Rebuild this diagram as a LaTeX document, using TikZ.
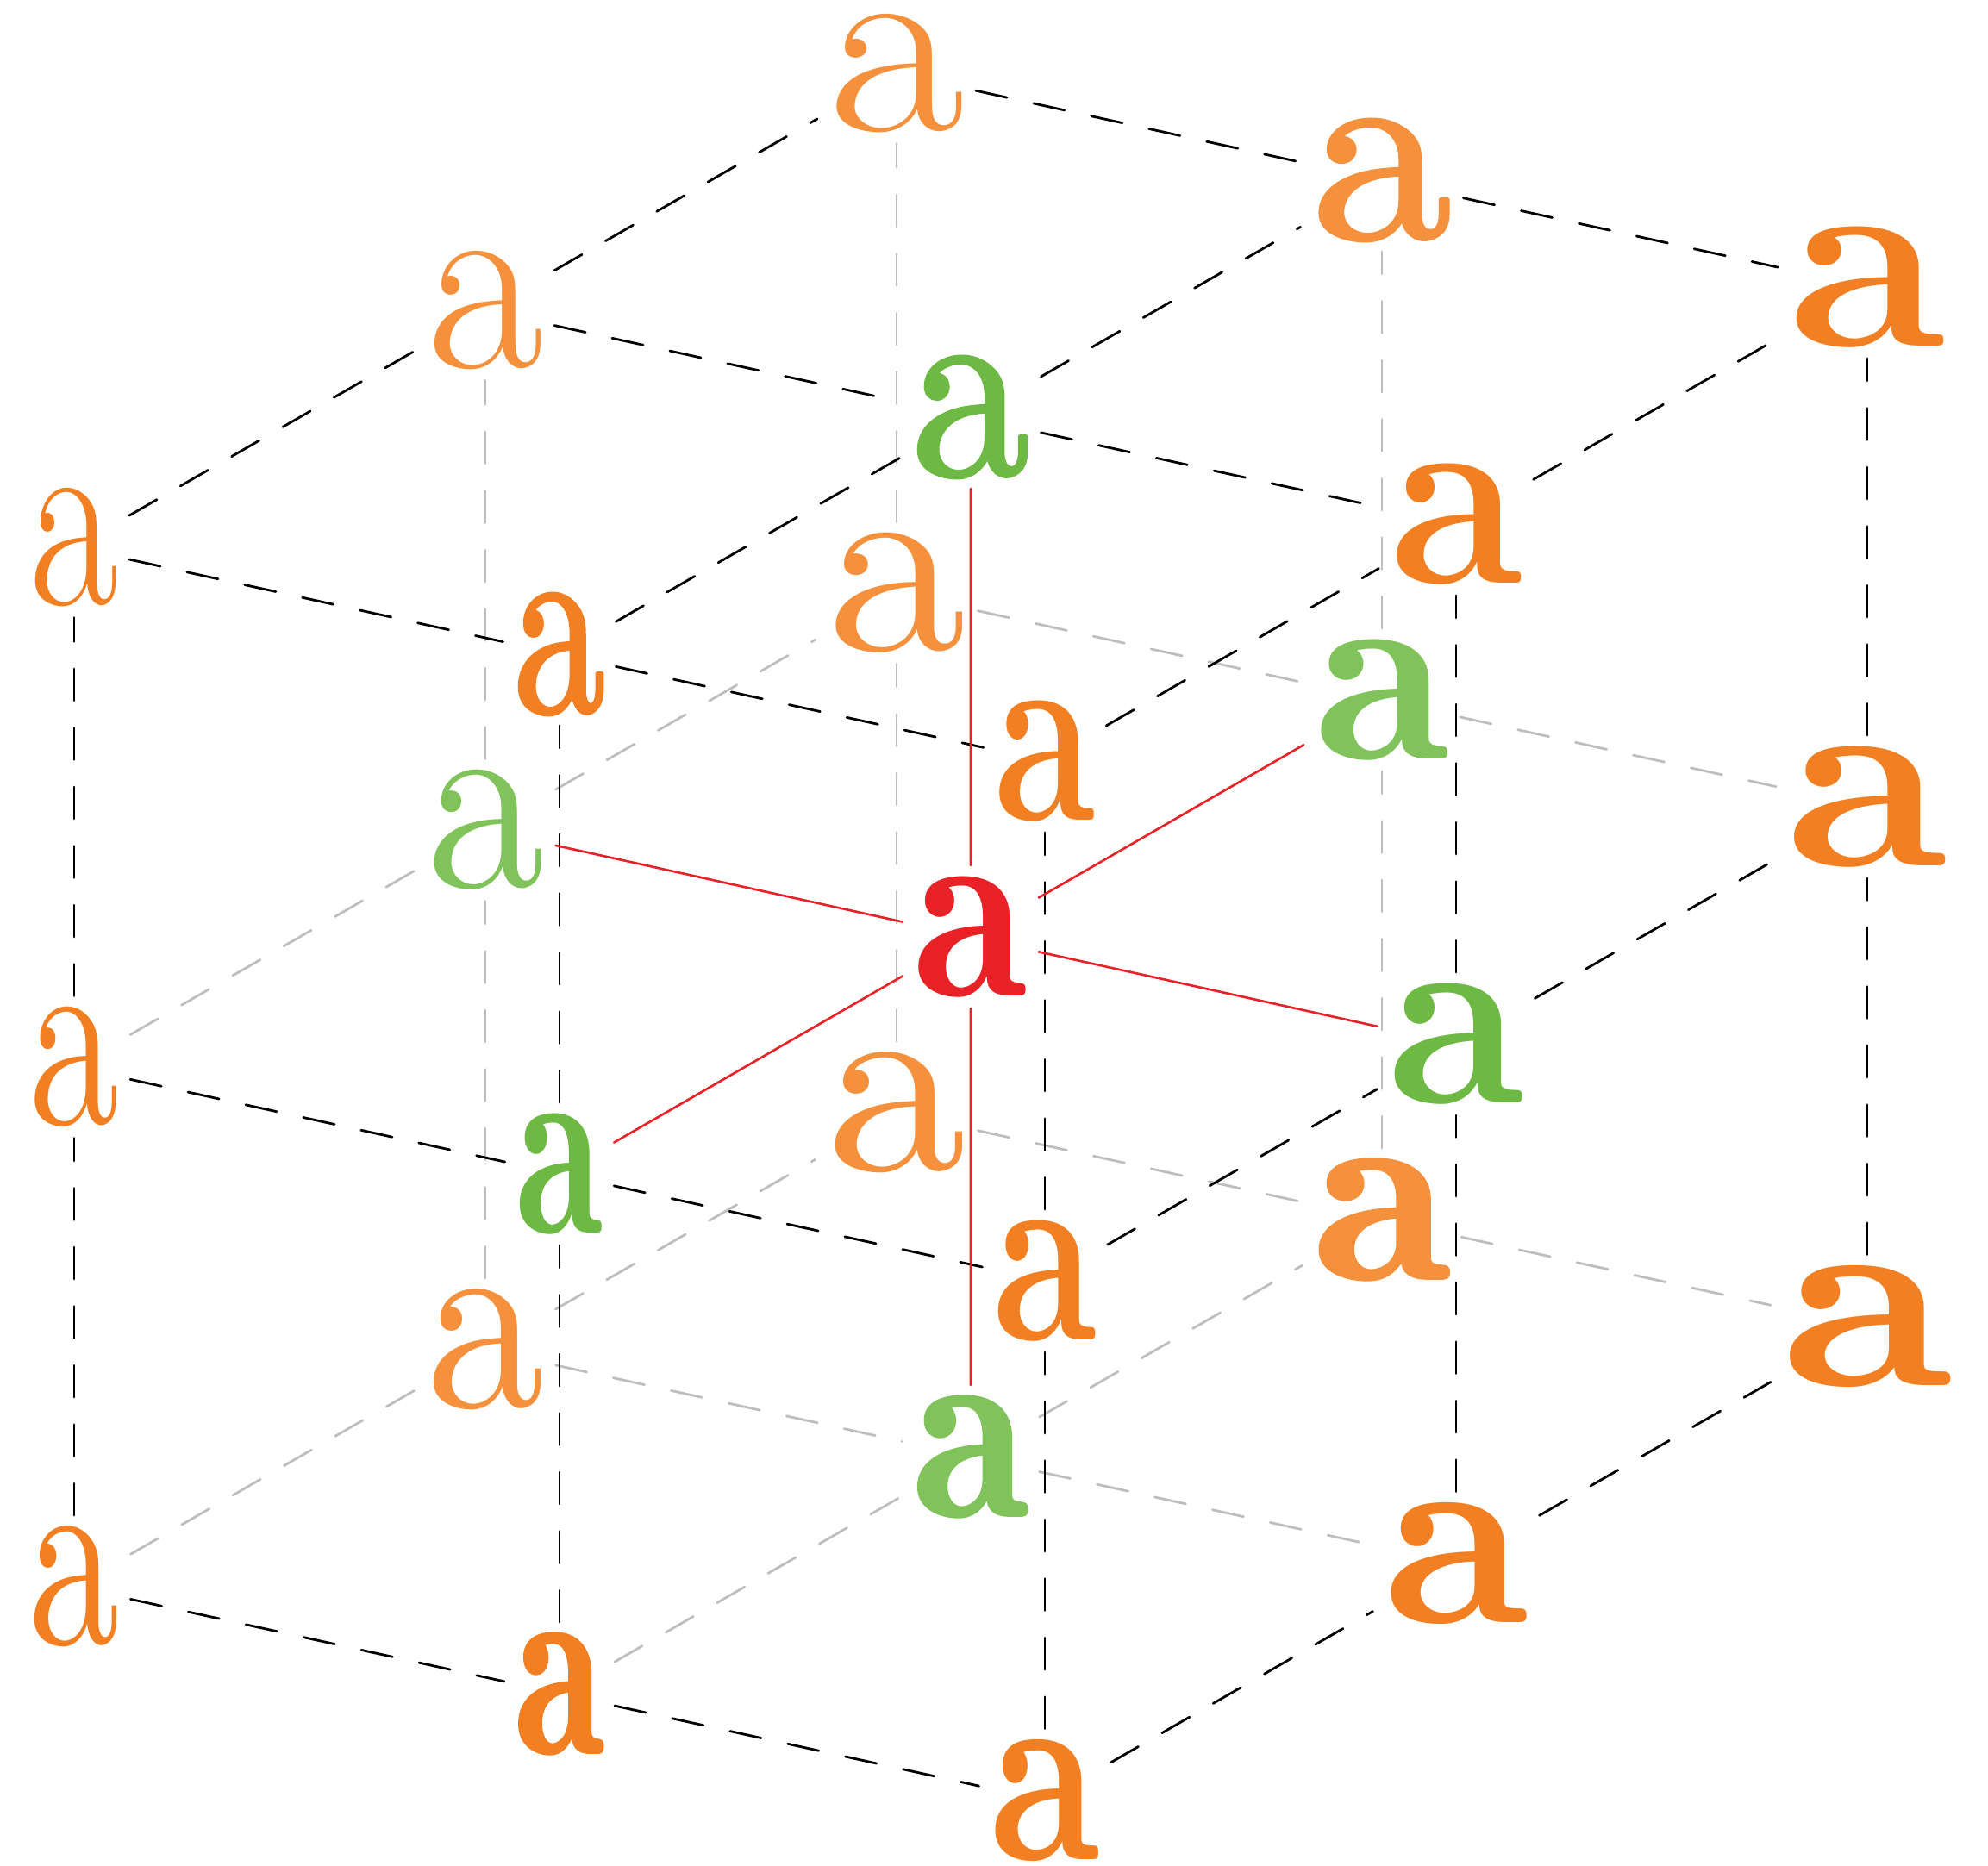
\documentclass[tikz,border=0pt]{standalone}
\usepackage{fontspec}
\definecolor{fontorange}{RGB}{242,128,34}
\definecolor{paleorange}{RGB}{245,145,60}
\definecolor{fontgreen}{RGB}{109,185,68}
\definecolor{palegreen}{RGB}{128,195,90}
\definecolor{fontred}{RGB}{233,34,40}
\definecolor{hiddengray}{RGB}{190,190,190}
\newcommand{\glypha}[2]{\fontsize{87pt}{87pt}\fontspec{#1}[Extension=.otf,FakeStretch=#2]a}
\newcommand{\heavya}[3]{\fontsize{87pt}{87pt}\fontspec{#1}[Extension=.otf,FakeStretch=#2,FakeBold=#3]a}
\tikzset{
  letter/.style={inner sep=0.12cm},
  edge/.style={line width=0.8pt, dash pattern=on 10.5pt off 9pt},
  seenedge/.style={edge, black},
  hiddenedge/.style={edge, hiddengray},
  axisedge/.style={line width=0.75pt, fontred}
}
\begin{document}
\begin{tikzpicture}[x={(5.63cm,-1.24cm)},y={(4.77cm,2.75cm)},z={(0cm,6.03cm)},line join = round, line cap = round]
			\useasboundingbox (-0.86cm,-3.24cm) rectangle (22.20cm,18.41cm);
			% bottom layer
			\node[letter,text=fontorange] (a000) at (0,0,0) {\glypha{lmroman10-regular}{0.69}};
			\node[letter,text=paleorange] (a010) at (0,1,0) {\glypha{lmroman10-regular}{0.90}};
			\node[letter,text=paleorange] (a020) at (0,2,0) {\glypha{lmroman10-regular}{1.07}};
			\node[letter,text=fontorange] (a100) at (1,0,0) {\heavya{lmromandemi10-regular}{0.69}{1}};
			\node[letter,text=palegreen] (a110) at (1,1,0) {\heavya{lmromandemi10-regular}{0.90}{1}};
			\node[letter,text=paleorange] (a120) at (1,2,0) {\heavya{lmromandemi10-regular}{1.07}{1}};
			\node[letter,text=fontorange] (a200) at (2,0,0) {\glypha{lmroman8-bold}{0.70}};
			\node[letter,text=fontorange] (a210) at (2,1,0) {\glypha{lmroman8-bold}{0.92}};
			\node[letter,text=fontorange] (a220) at (2,2,0) {\glypha{lmroman8-bold}{1.09}};
			% middle layer
			\node[letter,text=fontorange] (a001) at (0,0,1) {\glypha{lmroman12-regular}{0.70}};
			\node[letter,text=palegreen] (a011) at (0,1,1) {\glypha{lmroman12-regular}{0.92}};
			\node[letter,text=paleorange] (a021) at (0,2,1) {\glypha{lmroman12-regular}{1.09}};
			\node[letter,text=fontgreen] (a101) at (1,0,1) {\glypha{lmromandemi10-regular}{0.68}};
			\node[letter,text=fontred] (a111) at (1,1,1) {\glypha{lmromandemi10-regular}{0.89}};
			\node[letter,text=palegreen] (a121) at (1,2,1) {\glypha{lmromandemi10-regular}{1.05}};
			\node[letter,text=fontorange] (a201) at (2,0,1) {\glypha{lmroman10-bold}{0.70}};
			\node[letter,text=fontgreen] (a211) at (2,1,1) {\glypha{lmroman10-bold}{0.92}};
			\node[letter,text=fontorange] (a221) at (2,2,1) {\glypha{lmroman10-bold}{1.09}};
			% top layer
			\node[letter,text=fontorange] (a002) at (0,0,2) {\glypha{lmroman17-regular}{0.73}};
			\node[letter,text=paleorange] (a012) at (0,1,2) {\glypha{lmroman17-regular}{0.96}};
			\node[letter,text=paleorange] (a022) at (0,2,2) {\glypha{lmroman17-regular}{1.13}};
			\node[letter,text=fontorange] (a102) at (1,0,2) {\heavya{lmroman10-regular}{0.69}{1.5}};
			\node[letter,text=fontgreen] (a112) at (1,1,2) {\heavya{lmroman10-regular}{0.90}{1.5}};
			\node[letter,text=paleorange] (a122) at (1,2,2) {\heavya{lmroman10-regular}{1.07}{1.5}};
			\node[letter,text=fontorange] (a202) at (2,0,2) {\glypha{lmroman12-bold}{0.70}};
			\node[letter,text=fontorange] (a212) at (2,1,2) {\glypha{lmroman12-bold}{0.92}};
			\node[letter,text=fontorange] (a222) at (2,2,2) {\glypha{lmroman12-bold}{1.09}};
			% hidden edges
			\draw[hiddenedge] (a010)--(a110)--(a210) (a020)--(a120)--(a220) (a021)--(a121)--(a221);
			\draw[hiddenedge] (a000)--(a010)--(a020) (a001)--(a011)--(a021) (a100)--(a110)--(a120);
			\draw[hiddenedge] (a010)--(a011)--(a012) (a020)--(a021)--(a022) (a120)--(a121)--(a122);
			% top face
			\draw[seenedge] (a002)--(a102)--(a202) (a012)--(a112)--(a212) (a022)--(a122)--(a222);
			\draw[seenedge] (a002)--(a012)--(a022) (a102)--(a112)--(a122) (a202)--(a212)--(a222);
			% front face
			\draw[seenedge] (a000)--(a100)--(a200) (a001)--(a101)--(a201);
			\draw[seenedge] (a000)--(a001)--(a002) (a100)--(a101)--(a102) (a200)--(a201)--(a202);
			% right face
			\draw[seenedge] (a200)--(a210)--(a220) (a201)--(a211)--(a221);
			\draw[seenedge] (a210)--(a211)--(a212) (a220)--(a221)--(a222);
			% centre
			\draw[axisedge] (a011)--(a111)--(a211) (a101)--(a111)--(a121) (a110)--(a111)--(a112);
		\end{tikzpicture}
\end{document}
